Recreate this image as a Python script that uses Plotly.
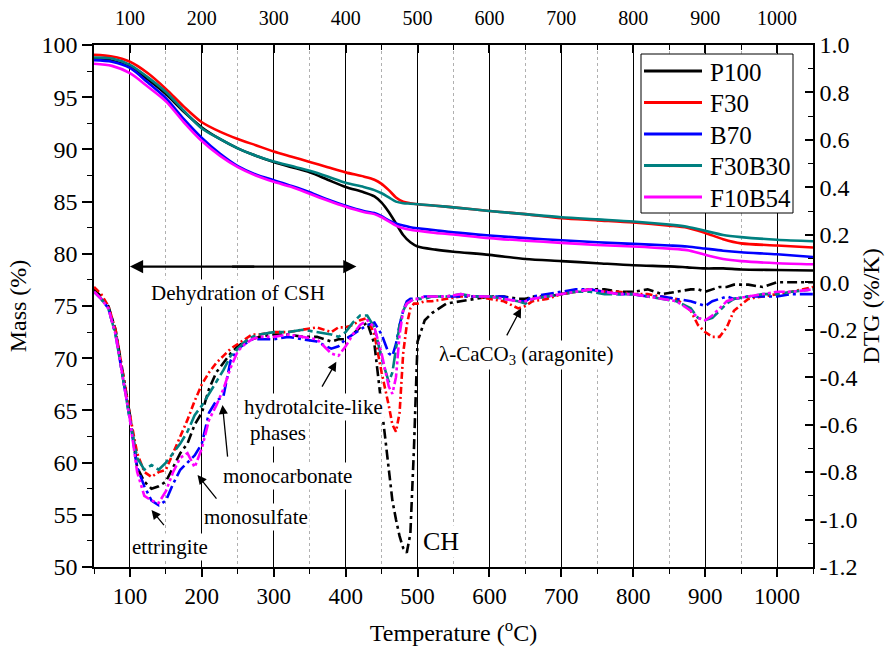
import plotly.graph_objects as go

# ---------------- data ----------------
series_names = ["P100", "F30", "B70", "F30B30", "F10B54"]
series_colors = ["#000000", "#ff0000", "#0000ff", "#008080", "#ff00ff"]

T_tg = [50, 75, 100, 125, 150, 175, 200, 225, 250, 275, 300, 325, 350, 375, 400, 425, 440, 450,
        460, 470, 480, 490, 500, 525, 550, 600, 650, 700, 750, 800, 850, 875, 900, 925, 950, 1000, 1050]

tg_P100 = [98.7, 98.5, 97.9, 96.7, 95.3, 93.6, 92.1, 91.0, 90.1, 89.4, 88.8, 88.3, 87.8, 87.1, 86.4, 85.9, 85.5, 84.9,
           84.0, 82.9, 81.8, 81.1, 80.7, 80.4, 80.2, 79.9, 79.5, 79.3, 79.1, 78.9, 78.8, 78.7, 78.6, 78.6, 78.5, 78.45, 78.4]
tg_F30 = [99.05, 98.9, 98.4, 97.3, 95.8, 94.1, 92.6, 91.7, 91.0, 90.4, 89.8, 89.3, 88.8, 88.3, 87.8, 87.4, 87.1, 86.7,
          86.1, 85.4, 85.0, 84.85, 84.75, 84.6, 84.45, 84.1, 83.8, 83.4, 83.2, 83.0, 82.7, 82.5, 82.0, 81.4, 81.0, 80.8, 80.6]
tg_B70 = [98.55, 98.4, 97.8, 96.4, 94.9, 92.9, 91.1, 89.6, 88.4, 87.6, 87.05, 86.5, 85.9, 85.2, 84.6, 84.1, 83.9, 83.6,
          83.2, 82.9, 82.7, 82.55, 82.45, 82.25, 82.05, 81.75, 81.5, 81.3, 81.1, 80.95, 80.8, 80.7, 80.5, 80.3, 80.15, 79.95, 79.7]
tg_F30B30 = [98.8, 98.7, 98.1, 96.9, 95.5, 93.7, 92.0, 91.0, 90.1, 89.4, 88.85, 88.4, 87.95, 87.4, 86.8, 86.4, 86.1, 85.8,
             85.4, 85.0, 84.85, 84.8, 84.75, 84.6, 84.45, 84.1, 83.8, 83.5, 83.3, 83.1, 82.8, 82.6, 82.2, 81.8, 81.6, 81.35, 81.2]
tg_F10B54 = [98.2, 98.0, 97.3, 96.0, 94.6, 92.6, 90.8, 89.4, 88.3, 87.5, 86.9, 86.4, 85.75, 85.1, 84.5, 84.0, 83.8, 83.5,
             83.1, 82.7, 82.45, 82.3, 82.2, 82.0, 81.85, 81.5, 81.25, 81.05, 80.85, 80.7, 80.5, 80.35, 79.9, 79.5, 79.3, 79.1, 79.0]

T_dtg = [50, 60, 70, 80, 90, 100, 110, 120, 130, 140, 150, 160, 170, 180, 190, 200, 210, 220, 230, 240,
         250, 260, 270, 280, 300, 320, 340, 360, 380, 390, 400, 410, 420, 430, 440, 450, 460, 465, 470, 475,
         480, 485, 490, 495, 500, 510, 520, 540, 560, 580, 600, 620, 640, 650, 660, 680, 700, 720, 740, 760,
         780, 800, 820, 840, 860, 880, 890, 900, 910, 920, 930, 940, 960, 980, 1000, 1020, 1050]

dtg_P100 = [-0.03, -0.06, -0.10, -0.20, -0.38, -0.56, -0.78, -0.84, -0.87, -0.86, -0.84, -0.78, -0.72, -0.68, -0.60, -0.55, -0.45, -0.38, -0.34, -0.30,
            -0.27, -0.25, -0.24, -0.23, -0.22, -0.22, -0.23, -0.23, -0.25, -0.24, -0.24, -0.22, -0.19, -0.17, -0.26, -0.52, -0.80, -0.92, -1.00, -1.07,
            -1.12, -1.14, -1.06, -0.70, -0.25, -0.16, -0.13, -0.09, -0.08, -0.07, -0.06, -0.06, -0.07, -0.07, -0.06, -0.06, -0.05, -0.04, -0.03, -0.03,
            -0.04, -0.04, -0.03, -0.05, -0.04, -0.03, -0.03, -0.04, -0.03, -0.02, -0.02, -0.01, -0.01, -0.02, 0.00, 0.00, 0.00]
dtg_F30 = [-0.02, -0.05, -0.10, -0.20, -0.38, -0.56, -0.72, -0.80, -0.82, -0.80, -0.79, -0.72, -0.65, -0.58, -0.50, -0.43, -0.38, -0.34, -0.31, -0.28,
           -0.26, -0.24, -0.22, -0.22, -0.21, -0.21, -0.20, -0.19, -0.21, -0.19, -0.19, -0.18, -0.16, -0.15, -0.22, -0.38, -0.52, -0.60, -0.63, -0.55,
           -0.30, -0.18, -0.11, -0.09, -0.09, -0.08, -0.08, -0.07, -0.06, -0.06, -0.07, -0.08, -0.11, -0.10, -0.08, -0.07, -0.05, -0.04, -0.03, -0.04,
           -0.04, -0.05, -0.05, -0.06, -0.07, -0.12, -0.18, -0.21, -0.23, -0.23, -0.19, -0.12, -0.07, -0.06, -0.05, -0.04, -0.02]
dtg_B70 = [-0.04, -0.07, -0.11, -0.22, -0.40, -0.58, -0.78, -0.86, -0.92, -0.94, -0.92, -0.85, -0.79, -0.76, -0.73, -0.68, -0.55, -0.50, -0.48, -0.33,
           -0.28, -0.26, -0.24, -0.24, -0.24, -0.23, -0.24, -0.25, -0.28, -0.27, -0.24, -0.22, -0.20, -0.18, -0.17, -0.22, -0.30, -0.31, -0.26, -0.18,
           -0.12, -0.08, -0.07, -0.07, -0.07, -0.06, -0.06, -0.06, -0.06, -0.06, -0.06, -0.06, -0.08, -0.08, -0.06, -0.05, -0.04, -0.03, -0.03, -0.04,
           -0.05, -0.05, -0.06, -0.06, -0.07, -0.08, -0.09, -0.10, -0.08, -0.07, -0.06, -0.07, -0.06, -0.06, -0.06, -0.05, -0.05]
dtg_F30B30 = [-0.04, -0.07, -0.11, -0.22, -0.40, -0.58, -0.74, -0.79, -0.77, -0.79, -0.76, -0.72, -0.68, -0.63, -0.56, -0.52, -0.47, -0.42, -0.37, -0.31,
              -0.28, -0.25, -0.23, -0.22, -0.21, -0.21, -0.20, -0.21, -0.22, -0.23, -0.21, -0.17, -0.14, -0.14, -0.19, -0.32, -0.42, -0.38, -0.28, -0.18,
              -0.12, -0.09, -0.08, -0.07, -0.07, -0.07, -0.06, -0.06, -0.05, -0.06, -0.06, -0.07, -0.08, -0.09, -0.07, -0.06, -0.05, -0.04, -0.04, -0.05,
              -0.05, -0.05, -0.06, -0.07, -0.08, -0.11, -0.15, -0.16, -0.15, -0.12, -0.09, -0.07, -0.06, -0.05, -0.05, -0.04, -0.03]
dtg_F10B54 = [-0.04, -0.07, -0.11, -0.22, -0.40, -0.58, -0.80, -0.90, -0.92, -0.93, -0.88, -0.80, -0.74, -0.72, -0.78, -0.70, -0.58, -0.52, -0.45, -0.36,
              -0.29, -0.26, -0.24, -0.23, -0.23, -0.22, -0.23, -0.24, -0.30, -0.31, -0.27, -0.22, -0.18, -0.16, -0.19, -0.30, -0.44, -0.47, -0.40, -0.22,
              -0.12, -0.09, -0.08, -0.07, -0.07, -0.06, -0.06, -0.06, -0.05, -0.06, -0.06, -0.07, -0.08, -0.08, -0.07, -0.06, -0.05, -0.04, -0.03, -0.04,
              -0.05, -0.05, -0.06, -0.07, -0.08, -0.12, -0.15, -0.16, -0.14, -0.11, -0.08, -0.07, -0.06, -0.05, -0.04, -0.04, -0.03]

tg_values = [tg_P100, tg_F30, tg_B70, tg_F30B30, tg_F10B54]
dtg_values = [dtg_P100, dtg_F30, dtg_B70, dtg_F30B30, dtg_F10B54]

dtg_tickvals = [-1.2, -1.0, -0.8, -0.6, -0.4, -0.2, 0.0, 0.2, 0.4, 0.6, 0.8, 1.0]
dtg_ticktext = ["-1.2", "-1.0", "-0.8", "-0.6", "-0.4", "-0.2", "0.0", "0.2", "0.4", "0.6", "0.8", "1.0"]

# ---------------- styles ----------------
dtg_dashes = ["10px,4px,3px,4px", "7px,3px,2px,3px", "13px,4px,3px,4px", "16px,4px,5px,4px", "11px,3px,3px,3px,3px,3px"]
FONT = "Liberation Serif"

fig = go.Figure()

for name, col, vals in zip(series_names, series_colors, tg_values):
    fig.add_trace(go.Scatter(x=T_tg, y=vals, mode="lines", name=name, showlegend=False,
                             line=dict(color=col, width=2.6, shape="spline", smoothing=0.8),
                             xaxis="x", yaxis="y"))

for name, col, vals, dash in zip(series_names, series_colors, dtg_values, dtg_dashes):
    fig.add_trace(go.Scatter(x=T_dtg, y=vals, mode="lines", name=name + " DTG", showlegend=False,
                             line=dict(color=col, width=2.6, dash=dash),
                             xaxis="x2", yaxis="y2"))

ann_font = dict(family=FONT, size=21, color="black")
annotations = []
shapes = []

# double arrow: Dehydration of CSH
for tip, mid in ((100, 275), (415, 240)):
    annotations.append(dict(x=tip, y=0.066, ax=mid, ay=0.066, xref="x2", yref="y2", axref="x2", ayref="y2",
                            text="", showarrow=True, arrowhead=2, arrowsize=1.2, arrowwidth=2.2, arrowcolor="black"))
annotations.append(dict(x=250, y=-0.044, xref="x2", yref="y2", text="Dehydration of CSH", showarrow=False,
                        font=ann_font, bgcolor="white"))

# labelled arrows: (tip_x, tip_y, tail_x, tail_y)
arrows = [
    (130, -0.96, 149, -1.03),     # ettringite
    (194, -0.812, 222, -0.918),   # monosulfate
    (228.7, -0.517, 236, -0.741), # monocarbonate
    (387, -0.335, 366, -0.446),   # hydrotalcite
    (644, -0.11, 623, -0.23),     # aragonite
]
for tx, ty, sx, sy in arrows:
    annotations.append(dict(x=tx, y=ty, ax=sx, ay=sy, xref="x2", yref="y2", axref="x2", ayref="y2",
                            text="", showarrow=True, arrowhead=2, arrowsize=1.4, arrowwidth=1.3, arrowcolor="black"))

labels = [
    (155.5, -1.115, "ettringite", "center"),
    (276, -0.988, "monosulfate", "center"),
    (319.5, -0.817, "monocarbonate", "center"),
    (256.5, -0.524, "hydrotalcite-like", "left"),
    (264, -0.634, "phases", "left"),
    (651, -0.307, "λ-CaCO<sub>3</sub> (aragonite)", "center"),
]
for lx, ly, txt, anchor in labels:
    annotations.append(dict(x=lx, y=ly, xref="x2", yref="y2", text=txt, showarrow=False, xanchor=anchor,
                            font=ann_font, bgcolor="white", borderpad=1))
annotations.append(dict(x=505, y=-1.093, xref="x2", yref="y2", text="CH", showarrow=False, xanchor="left",
                        font=dict(family=FONT, size=26, color="black"), bgcolor="white", borderpad=1))

# ---------------- custom legend box (paper coords of the plot area) ----------------
PX0, PW, PY0, PH = 94.0, 719.0, 45.0, 522.0
def px(xp):
    return (xp - PX0) / PW
def py(yp):
    return 1 - (yp - PY0) / PH

shapes.append(dict(type="rect", xref="paper", yref="paper", x0=px(641), x1=px(793), y0=py(213), y1=py(54),
                   line=dict(color="black", width=1), fillcolor="white", layer="above"))
for i, (name, col) in enumerate(zip(series_names, series_colors)):
    yy = 71 + i * 31.5
    shapes.append(dict(type="line", xref="paper", yref="paper", x0=px(644), x1=px(702), y0=py(yy), y1=py(yy),
                       line=dict(color=col, width=3), layer="above"))
    annotations.append(dict(x=px(708), y=py(yy + 1), xref="paper", yref="paper", text=name, showarrow=False,
                            xanchor="left", yanchor="middle", font=dict(family=FONT, size=25, color="black")))

fig.update_layout(
    width=891, height=649,
    margin=dict(l=94, r=78, t=45, b=82, autoexpand=False),
    paper_bgcolor="white", plot_bgcolor="white",
    font=dict(family=FONT, color="black"),
    showlegend=False,
    xaxis=dict(range=[50, 1050], tick0=0, dtick=100, showline=True, linecolor="black", linewidth=1.5,
               automargin=False,
               ticks="outside", ticklen=8, tickwidth=1.5, tickcolor="black",
               tickfont=dict(family=FONT, size=23),
               showgrid=True, gridcolor="black", gridwidth=1, zeroline=False,
               minor=dict(dtick=50, ticks="outside", ticklen=5, tickwidth=1.2, tickcolor="black",
                          showgrid=True, gridcolor="#b0b0b0", griddash="dot", gridwidth=1),
               title=dict(text="Temperature (<sup>o</sup>C)", font=dict(family=FONT, size=24), standoff=16)),
    xaxis2=dict(matches="x", overlaying="x", side="top", anchor="y2", tick0=0, dtick=100,
                automargin=False,
                showline=True, linecolor="black", linewidth=1.5,
                ticks="inside", ticklen=8, tickwidth=1.5, tickcolor="black", ticklabelstandoff=10,
                tickfont=dict(family=FONT, size=20), showgrid=False, zeroline=False,
                minor=dict(dtick=50, ticks="inside", ticklen=5, tickwidth=1.2, tickcolor="black")),
    yaxis=dict(range=[50, 100], dtick=5, showline=True, linecolor="black", linewidth=1.5,
               automargin=False,
               ticks="outside", ticklen=10, tickwidth=1.5, tickcolor="black",
               tickfont=dict(family=FONT, size=24), showgrid=False, zeroline=False,
               minor=dict(dtick=2.5, ticks="outside", ticklen=5, tickwidth=1.2, tickcolor="black"),
               title=dict(text="Mass (%)", font=dict(family=FONT, size=24), standoff=8)),
    yaxis2=dict(range=[-1.2, 1.0], overlaying="y", side="right", anchor="x2",
                automargin=False,
                tickvals=dtg_tickvals, ticktext=dtg_ticktext,
                showline=True, linecolor="black", linewidth=1.5,
                ticks="inside", ticklen=8, tickwidth=1.5, tickcolor="black",
                tickfont=dict(family=FONT, size=24), showgrid=False, zeroline=False,
                minor=dict(tickvals=[-1.1, -0.9, -0.7, -0.5, -0.3, -0.1, 0.1, 0.3, 0.5, 0.7, 0.9],
                           ticks="inside", ticklen=5, tickwidth=1.2, tickcolor="black"),
                title=dict(text="DTG (%/K)", font=dict(family=FONT, size=24), standoff=4)),
    annotations=annotations,
    shapes=shapes,
)

fig.write_html("out.html")
